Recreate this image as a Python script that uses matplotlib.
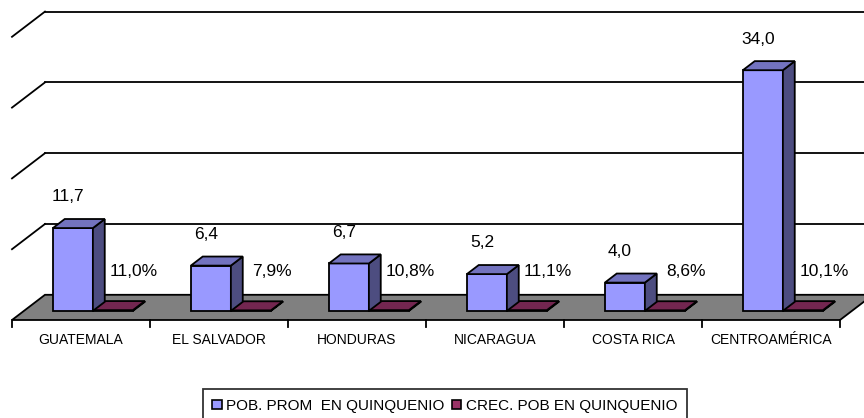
import matplotlib.pyplot as plt
from matplotlib.patches import Polygon, Patch

plt.rcParams['font.family'] = ['Liberation Sans', 'DejaVu Sans']

# datos
paises = ['GUATEMALA', 'EL SALVADOR', 'HONDURAS', 'NICARAGUA', 'COSTA RICA', 'CENTROAMÉRICA']
pob_prom = [11.7, 6.4, 6.7, 5.2, 4.0, 34.0]
crec_pob = [0.110, 0.079, 0.108, 0.111, 0.086, 0.101]
grid_vals = [10, 20, 30, 40]
series = ['POB. PROM  EN QUINQUENIO', 'CREC. POB EN QUINQUENIO']

# 3d look: depth offset of the floor (category units, value units)
DX = 0.239
DY = 3.56
bar_w = 0.29
f0, f1 = 0.36, 0.72   # front/back of the bars inside the floor depth

c_blue = ('#9999FF', '#7373BF', '#4D4D80')
c_mar = ('#993366', '#732650', '#4D1A33')

fig = plt.figure(figsize=(8.64, 4.18), dpi=100)
ax = fig.add_axes([0, 0, 1, 1])
ax.set_xlim(-12 / 138, 852 / 138)
ax.set_ylim(-98 / 7.08, 320 / 7.08)
ax.axis('off')

n = len(paises)


def poly(pts, fc, z):
    ax.add_patch(Polygon(pts, closed=True, facecolor=fc, edgecolor='black',
                         linewidth=1.3, joinstyle='miter', zorder=z))


# floor
poly([(0, 0), (DX, DY), (n + DX, DY), (n, 0)], '#808080', 1)

# walls grid
for g in grid_vals:
    ax.plot([0, DX], [g, g + DY], color='black', lw=1.3, zorder=1)
    ax.plot([DX, n + DX], [g + DY, g + DY], color='black', lw=1.3, zorder=1)

# category ticks
for i in range(n + 1):
    ax.plot([i, i], [0, -1.0], color='black', lw=1.3, zorder=2)


def bar3d(x0, h, cols, z):
    x1 = x0 + bar_w
    front = [(x0 + f0 * DX, f0 * DY), (x1 + f0 * DX, f0 * DY),
             (x1 + f0 * DX, h + f0 * DY), (x0 + f0 * DX, h + f0 * DY)]
    top = [(x0 + f0 * DX, h + f0 * DY), (x1 + f0 * DX, h + f0 * DY),
           (x1 + f1 * DX, h + f1 * DY), (x0 + f1 * DX, h + f1 * DY)]
    side = [(x1 + f0 * DX, f0 * DY), (x1 + f1 * DX, f1 * DY),
            (x1 + f1 * DX, h + f1 * DY), (x1 + f0 * DX, h + f0 * DY)]
    poly(front, cols[0], z)
    poly(side, cols[2], z)
    poly(top, cols[1], z)


for i in range(n):
    xa = i + 0.5 - bar_w
    xb = i + 0.5
    bar3d(xb, crec_pob[i], c_mar, 3)
    bar3d(xa, pob_prom[i], c_blue, 4)

    ax.text(xa + bar_w / 2 + 0.05, pob_prom[i] + f0 * DY + 4.4,
            f'{pob_prom[i]:.1f}'.replace('.', ','), ha='center', va='center',
            fontsize=12.5, zorder=6)
    ax.text(xb + bar_w / 2 + DX, 6.8,
            f'{crec_pob[i] * 100:.1f}%'.replace('.', ','), ha='center', va='center',
            fontsize=12.5, zorder=6)
    ax.text(i + 0.5, -2.8, paises[i], ha='center', va='center', fontsize=10)

handles = [Patch(facecolor=c_blue[0], edgecolor='black', lw=1.2),
           Patch(facecolor=c_mar[0], edgecolor='black', lw=1.2)]
leg = fig.legend(handles, series, loc='upper center', ncol=2,
                 bbox_to_anchor=(445 / 864, 1 - 389 / 418), borderaxespad=0,
                 frameon=True, fancybox=False, edgecolor='black', fontsize=11,
                 handlelength=0.6, handleheight=0.6, handletextpad=0.3,
                 columnspacing=0.5, borderpad=0.65)
leg.get_frame().set_linewidth(1.3)

fig.savefig('out.png', dpi=100)
